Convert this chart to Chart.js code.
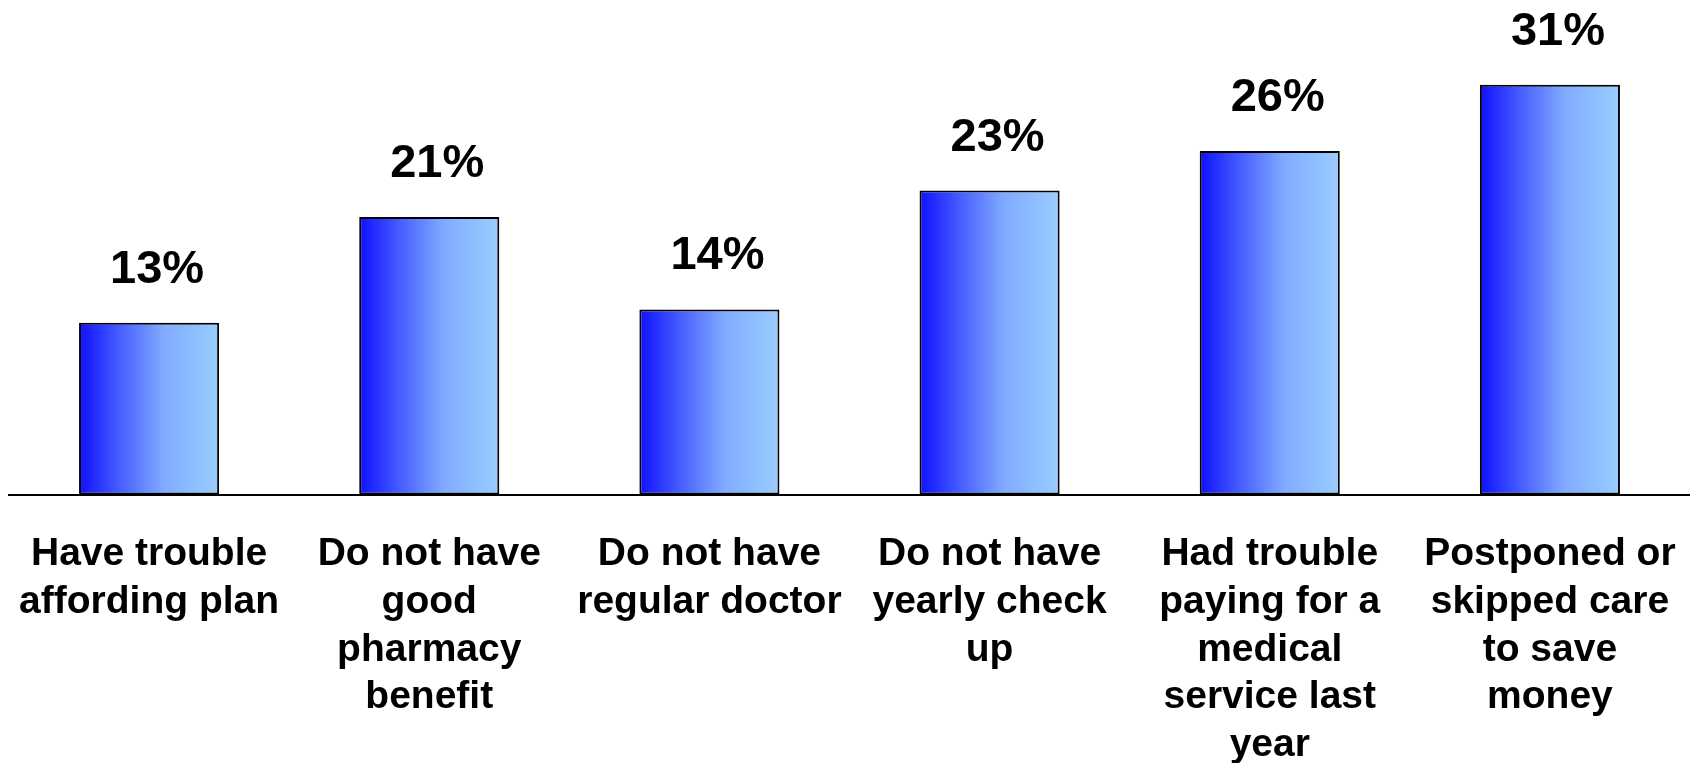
<!DOCTYPE html>
<html>
<head>
<meta charset="utf-8">
<script src="https://cdn.jsdelivr.net/npm/chart.js@4"></script>
<style>
  html, body { margin: 0; background: #fff; overflow: hidden; }
  #wrap { width: 1690px; height: 763px; }
  canvas { display: block; }
</style>
</head>
<body>
<div id="wrap"><canvas id="barChart"></canvas></div>
<script>
// data
const categories = [
    ['Have trouble', 'affording plan'],
    ['Do not have', 'good', 'pharmacy', 'benefit'],
    ['Do not have', 'regular doctor'],
    ['Do not have', 'yearly check', 'up'],
    ['Had trouble', 'paying for a', 'medical', 'service last', 'year'],
    ['Postponed or', 'skipped care', 'to save', 'money']
];
const percents = [13, 21, 14, 23, 26, 31];

const fontFamily = "'Liberation Sans', Arial, sans-serif";

// left-to-right blue gradient for each bar
function barGradient(context) {
    const chart = context.chart;
    const xScale = chart.scales.x;
    if (!chart.chartArea || !xScale) return '#5a7dff';
    const cx = xScale.getPixelForValue(context.dataIndex);
    const half = (xScale.width / categories.length) * 0.25;
    const g = chart.ctx.createLinearGradient(cx - half, 0, cx + half, 0);
    g.addColorStop(0, '#1010ff');
    g.addColorStop(0.3, '#4860ff');
    g.addColorStop(0.6, '#80aaff');
    g.addColorStop(1, '#9acdff');
    return g;
}

// percent labels above bars (sit a little right of the bar centre, as in the original)
const valueLabels = {
    id: 'valueLabels',
    afterDatasetsDraw(chart) {
        const ctx = chart.ctx;
        const meta = chart.getDatasetMeta(0);
        ctx.save();
        ctx.fillStyle = '#000';
        ctx.font = 'bold 47px ' + fontFamily;
        ctx.textAlign = 'center';
        ctx.textBaseline = 'middle';
        meta.data.forEach((bar, i) => {
            ctx.fillText(percents[i] + '%', bar.x + 8, bar.y - 53);
        });
        ctx.restore();
    }
};

const ctx = document.getElementById('barChart').getContext('2d');
const barChart = new Chart(ctx, {
    type: 'bar',
    data: {
        labels: categories,
        datasets: [{
            data: percents,
            backgroundColor: barGradient,
            borderColor: '#000',
            borderWidth: 2,
            borderSkipped: false,
            barPercentage: 0.5,
            categoryPercentage: 1.0
        }]
    },
    options: {
        responsive: true,
        maintainAspectRatio: false,
        animation: false,
        layout: { padding: { top: 32, left: 9, right: 0, bottom: -6 } },
        plugins: {
            legend: { display: false },
            tooltip: { enabled: false }
        },
        scales: {
            x: {
                // invisible tick marks give the gap under the axis line
                grid: { display: true, drawOnChartArea: false, drawTicks: true, tickLength: 36, color: 'rgba(0,0,0,0)' },
                border: { display: true, color: '#000', width: 2 },
                ticks: {
                    color: '#000',
                    autoSkip: false,
                    maxRotation: 0,
                    minRotation: 0,
                    padding: 0,
                    font: { family: fontFamily, size: 39, weight: 'bold', lineHeight: '47.7px' }
                }
            },
            y: {
                display: false,
                min: 0,
                max: 35
            }
        }
    },
    plugins: [valueLabels]
});
</script>
</body>
</html>
